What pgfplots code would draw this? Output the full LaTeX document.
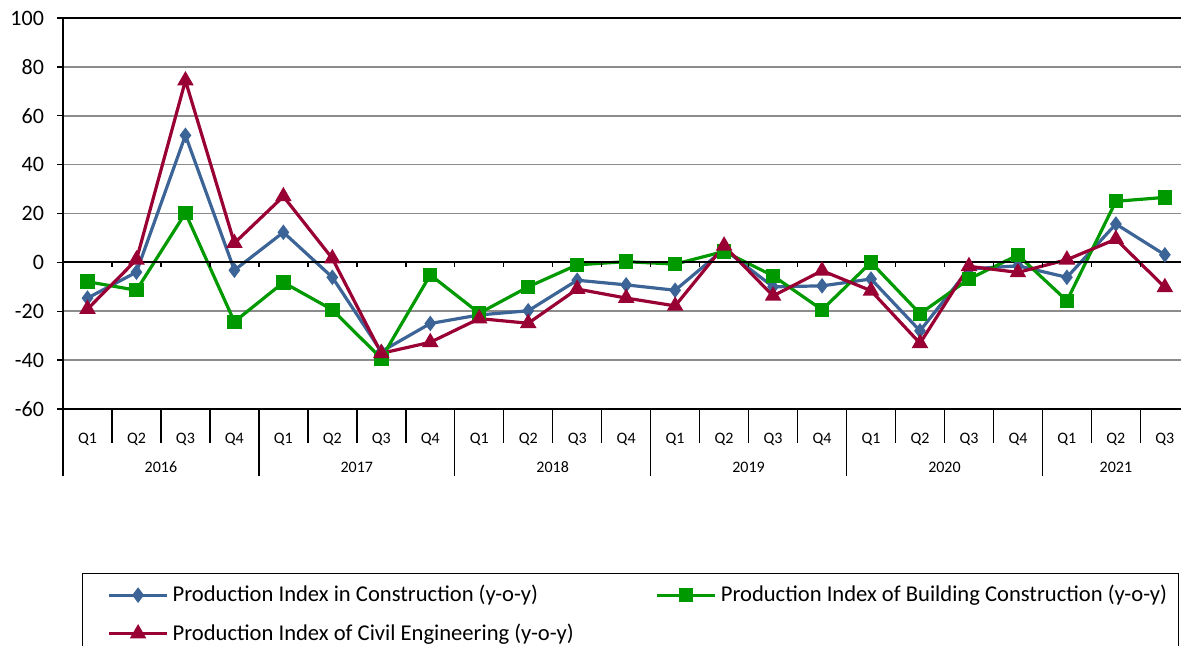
\documentclass[border=0pt]{standalone}
\usepackage{fontspec}
\setmainfont{Carlito}
\usepackage{pgfplots}
\pgfplotsset{compat=1.18}
\definecolor{cblue}{HTML}{3C6496}
\definecolor{cgreen}{HTML}{009900}
\definecolor{cred}{HTML}{990033}
\definecolor{cgrid}{HTML}{8C8C8C}
\begin{document}
\begin{tikzpicture}
\begin{axis}[
  at={(31.5pt,-204.5pt)}, anchor=south west,
  width=559pt, height=195.5pt, scale only axis,
  xmin=0, xmax=22.83, ymin=-60, ymax=100,
  clip=false,
  axis x line*=box, axis y line*=left,
  axis line style={black, line width=0.9pt},
  ytick={-60,-40,...,100},
  ymajorgrids, grid style={cgrid, line width=0.8pt},
  tick align=outside, major tick length=3pt,
  tick style={black, line width=0.7pt},
  xtick={0.5,1.5,...,22.5},
  xticklabels={Q1,Q2,Q3,Q4,Q1,Q2,Q3,Q4,Q1,Q2,Q3,Q4,Q1,Q2,Q3,Q4,Q1,Q2,Q3,Q4,Q1,Q2,Q3},
  x tick style={draw=none},
  xticklabel style={font=\fontsize{8}{9}\selectfont, anchor=center, yshift=-12pt},
  yticklabel style={font=\fontsize{11}{12}\selectfont, anchor=east, xshift=-3pt},
  /pgf/number format/assume math mode=true,
  legend style={at={(0.017,-0.419)}, anchor=north west, draw=black, line width=0.5pt,
    font=\fontsize{11.3}{13}\selectfont, inner xsep=12.5pt, inner ysep=4pt,
    row sep=5.5pt,
    /tikz/every even column/.append style={column sep=39pt}},
  legend columns=2,
  legend cell align=left,
  legend image code/.code={\draw[mark repeat=2,mark phase=2,#1] plot coordinates {(0pt,0pt)(14.5pt,0pt)(29pt,0pt)};},
  every axis plot/.append style={line width=1.6pt},
]
\addplot[cblue, mark=diamond*, mark size=2.6pt, mark options={solid}] coordinates {
(0.5,-14.6)(1.5,-4)(2.5,52)(3.5,-3.2)(4.5,12.3)(5.5,-6.1)(6.5,-36.5)(7.5,-25)
(8.5,-21.5)(9.5,-19.8)(10.5,-7.3)(11.5,-9.2)(12.5,-11.4)(13.5,5.4)(14.5,-10)(15.5,-9.6)
(16.5,-6.8)(17.5,-28)(18.5,-2.7)(19.5,-1.4)(20.5,-6.1)(21.5,15.7)(22.5,3.1)};
\addlegendentry{Production Index in Construction (y-o-y)}
\addplot[cgreen, mark=square*, mark size=2.8pt, mark options={solid}] coordinates {
(0.5,-7.9)(1.5,-11.4)(2.5,20.2)(3.5,-24.3)(4.5,-8.2)(5.5,-19.4)(6.5,-39.3)(7.5,-5.1)
(8.5,-20.8)(9.5,-10)(10.5,-1)(11.5,0.3)(12.5,-0.7)(13.5,4.5)(14.5,-5.5)(15.5,-19.4)
(16.5,0)(17.5,-21)(18.5,-6.8)(19.5,3)(20.5,-15.7)(21.5,25)(22.5,26.6)};
\addlegendentry{Production Index of Building Construction (y-o-y)\hspace*{-9pt}}
\addplot[cred, mark=triangle*, mark size=3.2pt, mark options={solid}] coordinates {
(0.5,-19.1)(1.5,1.1)(2.5,74.4)(3.5,7.9)(4.5,27)(5.5,1.6)(6.5,-37.2)(7.5,-32.7)
(8.5,-23)(9.5,-24.9)(10.5,-10.9)(11.5,-14.6)(12.5,-17.8)(13.5,6.8)(14.5,-13.7)(15.5,-3.4)
(16.5,-11.6)(17.5,-33.1)(18.5,-1.6)(19.5,-4.1)(20.5,1.1)(21.5,9.5)(22.5,-10.2)};
\addlegendentry{Production Index of Civil Engineering (y-o-y)}
% zero line with small ticks
\draw[black, line width=0.9pt] (axis cs:0,0) -- (axis cs:22.83,0);
\pgfplotsinvokeforeach{1,...,22}{\draw[black, line width=0.7pt] (axis cs:#1,0) -- ++(0pt,-2.5pt);}
% category separators
\pgfplotsinvokeforeach{1,2,3,5,6,7,9,10,11,13,14,15,17,18,19,21,22}{\draw[black, line width=0.7pt] (axis cs:#1,-60) -- ++(0pt,-17pt);}
\pgfplotsinvokeforeach{0,4,8,12,16,20}{\draw[black, line width=0.7pt] (axis cs:#1,-60) -- ++(0pt,-33.5pt);}
% year labels
\node[font=\fontsize{8}{9}\selectfont] at ([yshift=-29pt]axis cs:2,-60) {2016};
\node[font=\fontsize{8}{9}\selectfont] at ([yshift=-29pt]axis cs:6,-60) {2017};
\node[font=\fontsize{8}{9}\selectfont] at ([yshift=-29pt]axis cs:10,-60) {2018};
\node[font=\fontsize{8}{9}\selectfont] at ([yshift=-29pt]axis cs:14,-60) {2019};
\node[font=\fontsize{8}{9}\selectfont] at ([yshift=-29pt]axis cs:18,-60) {2020};
\node[font=\fontsize{8}{9}\selectfont] at ([yshift=-29pt]axis cs:21.5,-60) {2021};
\end{axis}
\pgfresetboundingbox
\useasboundingbox (0pt,0pt) rectangle (591pt,-322.5pt);
\end{tikzpicture}
\end{document}
